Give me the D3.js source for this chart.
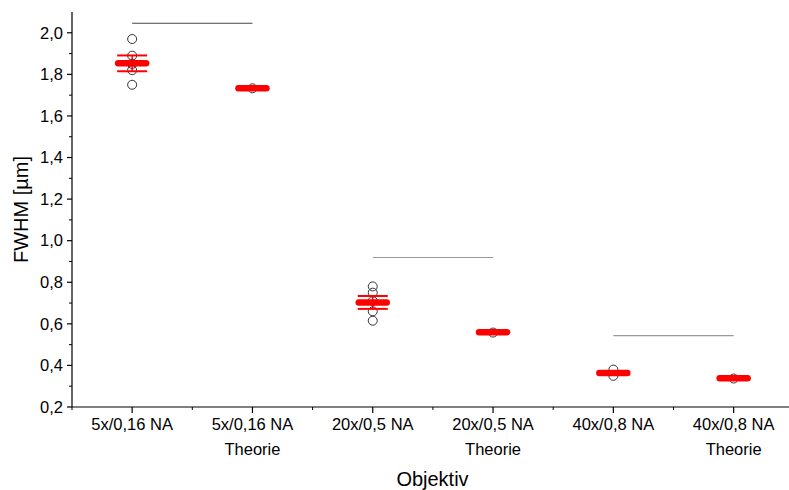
<!DOCTYPE html>
<html><head><meta charset="utf-8">
<script src="https://cdn.jsdelivr.net/npm/d3@7/dist/d3.min.js"></script>
<style>body{margin:0;background:#fff}svg{display:block;font-family:Arial,"Liberation Sans",sans-serif}</style>
</head><body><svg id="c" width="789" height="490"></svg>
<script>
const categories = ["5x/0,16 NA", "5x/0,16 NA|Theorie", "20x/0,5 NA", "20x/0,5 NA|Theorie", "40x/0,8 NA", "40x/0,8 NA|Theorie"];
const pointValues = [
  [1.97, 1.89, 1.85, 1.82, 1.75],
  [1.733],
  [0.78, 0.75, 0.71, 0.66, 0.615],
  [0.558],
  [0.38, 0.35],
  [0.337]
];
const means = [1.853, 1.733, 0.703, 0.56, 0.363, 0.338];
const errors = [0.038, 0, 0.031, 0, 0, 0];
const bracketFrom = [0, 2, 4];
const bracketTo = [1, 3, 5];
const bracketValue = [2.046, 0.919, 0.543];
const bracketColor = ["#444", "#999", "#999"];
const yTicks = [0.2, 0.4, 0.6, 0.8, 1.0, 1.2, 1.4, 1.6, 1.8, 2.0];

const svg = d3.select("#c");
const x0 = 72, yBottom = 407, yTop = 12;
const step = 120.3;
const x = d3.scalePoint().domain(categories).range([x0 + step/2, x0 + step*5.5]);
const y = d3.scaleLinear().domain([0.2, 2.1]).range([yBottom, yTop]);
const fmt = d => d3.format(".1f")(d).replace(".", ",");

// Y axis
const yAxis = svg.append("g").attr("transform", `translate(${x0},0)`);
yAxis.append("line").attr("y1", yTop).attr("y2", yBottom).attr("stroke", "#000").attr("stroke-width", 1.2);
const yMinor = d3.range(0.3, 2.1, 0.2);
yAxis.selectAll(".ym").data(yMinor).join("line").attr("x1", -3).attr("x2", 0)
  .attr("y1", d => y(d)).attr("y2", d => y(d)).attr("stroke", "#000").attr("stroke-width", 1);
yAxis.selectAll(".yM").data(yTicks).join("line").attr("x1", -5).attr("x2", 0)
  .attr("y1", d => y(d)).attr("y2", d => y(d)).attr("stroke", "#000").attr("stroke-width", 1.2);
yAxis.selectAll(".yl").data(yTicks).join("text").attr("x", -9).attr("y", d => y(d)).attr("dy", "0.35em")
  .attr("text-anchor", "end").attr("font-size", 16.5).attr("fill", "#000").text(fmt);

// X axis
const xAxis = svg.append("g").attr("transform", `translate(0,${yBottom})`);
xAxis.append("line").attr("x1", x0).attr("x2", x0 + step*6).attr("stroke", "#000").attr("stroke-width", 1.2);
xAxis.selectAll(".xm").data(d3.range(7)).join("line")
  .attr("x1", i => x0 + i*step).attr("x2", i => x0 + i*step).attr("y1", 0).attr("y2", 3)
  .attr("stroke", "#000").attr("stroke-width", 1);
xAxis.selectAll(".xM").data(categories).join("line")
  .attr("x1", d => x(d)).attr("x2", d => x(d)).attr("y1", 0).attr("y2", 6)
  .attr("stroke", "#000").attr("stroke-width", 1.2);
const xl = xAxis.selectAll(".xl").data(categories).join("text")
  .attr("text-anchor", "middle").attr("font-size", 16.5).attr("fill", "#000");
xl.each(function(d){
  const parts = d.split("|");
  const t = d3.select(this);
  parts.forEach((p, i) => t.append("tspan").attr("x", x(d)).attr("y", 23 + i*25).text(p));
});

// Titles
svg.append("text").attr("x", (x0 + 789)/2 + 2).attr("y", 486).attr("text-anchor", "middle")
  .attr("font-size", 20).attr("fill", "#000").text("Objektiv");
svg.append("text").attr("transform", `translate(28,${(yTop+yBottom)/2}) rotate(-90)`)
  .attr("text-anchor", "middle").attr("font-size", 20).attr("fill", "#000").text("FWHM [µm]");

// Brackets
svg.selectAll(".br").data(bracketValue).join("line")
  .attr("x1", (d, i) => x(categories[bracketFrom[i]])).attr("x2", (d, i) => x(categories[bracketTo[i]]))
  .attr("y1", d => y(d)).attr("y2", d => y(d))
  .attr("stroke", (d, i) => bracketColor[i]).attr("stroke-width", 1.2);

// Points
categories.forEach((c, i) => {
  svg.selectAll(null).data(pointValues[i]).join("circle")
    .attr("cx", x(c)).attr("cy", d => y(d)).attr("r", 4.5)
    .attr("fill", "none").attr("stroke", "#333").attr("stroke-width", 1);
});

// Error bars and means
categories.forEach((c, i) => {
  const cx = x(c);
  if (errors[i] > 0) {
    const g = svg.append("g").attr("stroke", "#ff0000");
    g.append("line").attr("x1", cx).attr("x2", cx).attr("y1", y(means[i]+errors[i])).attr("y2", y(means[i]-errors[i])).attr("stroke-width", 1.5);
    [1, -1].forEach(s => g.append("line").attr("x1", cx-15).attr("x2", cx+15)
      .attr("y1", y(means[i]+s*errors[i])).attr("y2", y(means[i]+s*errors[i])).attr("stroke-width", 2));
  }
  svg.append("line").attr("x1", cx-14).attr("x2", cx+14).attr("y1", y(means[i])).attr("y2", y(means[i]))
    .attr("stroke", "#ff0000").attr("stroke-width", 6.5).attr("stroke-linecap", "round");
});
</script></body></html>
